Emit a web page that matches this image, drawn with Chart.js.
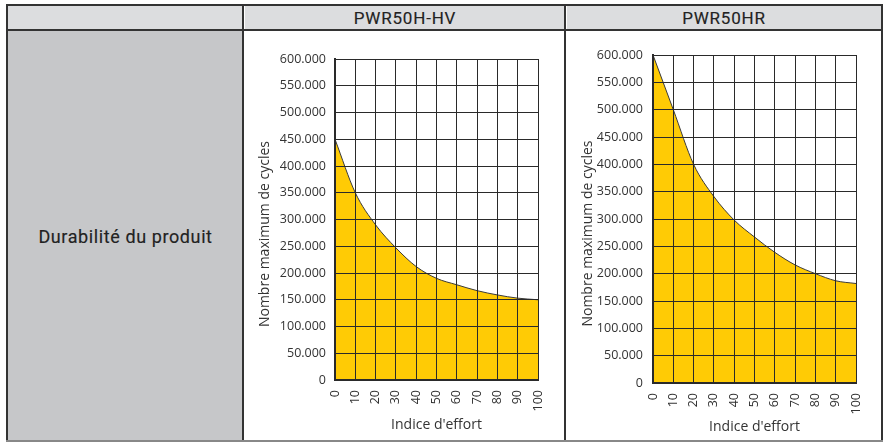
<!DOCTYPE html>
<html>
<head>
<meta charset="utf-8">
<script src="https://cdn.jsdelivr.net/npm/chart.js@4"></script>
<style>
  html, body { margin: 0; padding: 0; background: #fff; }
  body { width: 883px; height: 443px; position: relative; overflow: hidden; font-family: Roboto, sans-serif; }
  .cell { position: absolute; box-sizing: border-box; }
  .head { top: 5px; height: 26px; background: #dcdddf; color: #222; font-size: 17px; font-weight: 400;
          display: flex; align-items: center; justify-content: center; letter-spacing: 0.8px;
          -webkit-text-stroke: 0.15px #222; }
  .line { position: absolute; background: #333; }
  .box { position: absolute; top: 32px; height: 407px; }
</style>
</head>
<body>
<div class="cell head" style="left:8px;width:235px;"></div>
<div class="cell head" style="left:245px;width:320px;">PWR50H-HV</div>
<div class="cell head" style="left:567px;width:314px;">PWR50HR</div>
<div class="cell" style="left:8px;top:31px;width:235px;height:409px;background:#c6c7c9;display:flex;align-items:center;justify-content:center;font-size:18px;font-weight:400;letter-spacing:0.6px;-webkit-text-stroke:0.15px #222;color:#222;padding-top:1px;">Durabilité du produit</div>

<div class="line" style="left:6px;top:4px;width:877px;height:2px;"></div>
<div class="line" style="left:6px;top:29px;width:877px;height:2px;"></div>
<div class="line" style="left:6px;top:4px;width:2px;height:438px;"></div>
<div class="line" style="left:242px;top:4px;width:2px;height:438px;"></div>
<div class="line" style="left:564px;top:4px;width:2px;height:438px;"></div>
<div class="line" style="left:881px;top:4px;width:2px;height:438px;"></div>
<div class="line" style="left:6px;top:440px;width:877px;height:2px;background:#888;"></div>

<div class="box" style="left:245px;width:318px;"><canvas id="hv"></canvas></div>
<div class="box" style="left:567px;width:314px;"><canvas id="hr"></canvas></div>

<script>
var effort = [0, 10, 20, 30, 40, 50, 60, 70, 80, 90, 100];
var cyclesHV = [450000, 350000, 290000, 247000, 212000, 190000, 178000, 167000, 159000, 153000, 150000];
var cyclesHR = [600000, 500000, 400000, 341000, 298000, 267000, 239000, 216000, 200000, 187000, 182000];

function fmt(v) {
    if (v === 0) return '0';
    return Math.round(v / 1000) + '.000';
}

function makeChart(id, values, pad, yWidth, xHeight, yTitlePad, xTitlePad, tickPad) {
    var pts = effort.map(function (e, i) { return { x: e, y: values[i] }; });
    return new Chart(document.getElementById(id), {
        type: 'line',
        data: {
            datasets: [{
                data: pts,
                fill: 'origin',
                backgroundColor: '#ffcb05',
                borderColor: '#3a3a3a',
                borderWidth: 1,
                pointRadius: 0,
                cubicInterpolationMode: 'monotone'
            }]
        },
        options: {
            responsive: true,
            maintainAspectRatio: false,
            animation: false,
            layout: { padding: pad },
            plugins: { legend: { display: false }, tooltip: { enabled: false } },
            scales: {
                x: {
                    type: 'linear', min: 0, max: 100,
                    grid: { color: '#2a2a2a', lineWidth: 1, drawTicks: false, z: 1 },
                    border: { color: '#2a2a2a', width: 2, z: 2 },
                    ticks: { stepSize: 10, minRotation: 90, maxRotation: 90, padding: 10,
                             color: '#333', font: { family: 'Open Sans', size: 12.5 } },
                    title: { display: true, text: "Indice d'effort", color: '#333',
                             font: { family: 'Open Sans', size: 14 }, padding: { top: 0, bottom: xTitlePad } },
                    afterFit: function (s) { s.height = xHeight; }
                },
                y: {
                    min: 0, max: 600000,
                    grid: { color: '#2a2a2a', lineWidth: 1, drawTicks: false, z: 1 },
                    border: { color: '#2a2a2a', width: 2, z: 2 },
                    ticks: { stepSize: 50000, padding: tickPad, callback: fmt,
                             color: '#333', font: { family: 'Open Sans', size: 12.5 } },
                    title: { display: true, text: 'Nombre maximum de cycles        ', color: '#333',
                             font: { family: 'Open Sans', size: 14 }, padding: { top: yTitlePad, bottom: 0 } },
                    afterFit: function (s) { s.width = yWidth; }
                }
            }
        }
    });
}

makeChart('hv', cyclesHV, { top: 27, right: 14, left: 0, bottom: 0 }, 90, 59, 12, 6, 9);
makeChart('hr', cyclesHR, { top: 23, right: 10, left: 0, bottom: 0 }, 86, 56, 13, 4, 10);
</script>
</body>
</html>
